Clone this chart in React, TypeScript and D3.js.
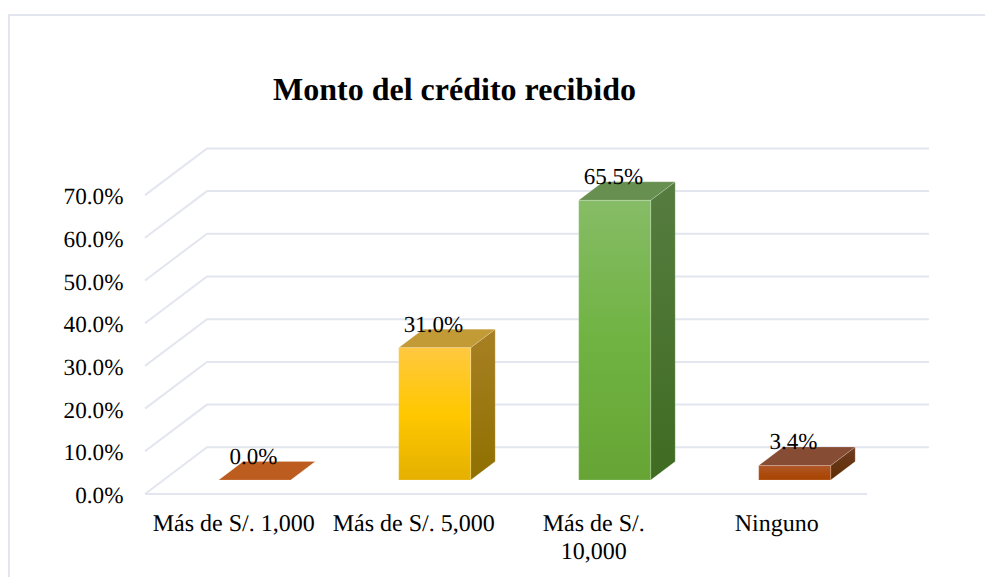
import React from "react";
import * as d3 from "d3";

const title = "Monto del crédito recibido";
const categories = ["Más de S/. 1,000", "Más de S/. 5,000", "Más de S/. 10,000", "Ninguno"];
const categoryLines = [["Más de S/. 1,000"], ["Más de S/. 5,000"], ["Más de S/.", "10,000"], ["Ninguno"]];
const values = [0.0, 31.0, 65.5, 3.4];
const valueLabels = ["0.0%", "31.0%", "65.5%", "3.4%"];
const ticks = [0, 10, 20, 30, 40, 50, 60, 70];
const faces = [
  { front: ["#c8682c", "#bc5c1e", "#b05417"], top: "#bc5c1e", side: ["#8a4a20", "#7a3f14"] },
  { front: ["#ffc840", "#ffc800", "#e5b000"], top: "#c29a36", side: ["#a88024", "#8f7000"] },
  { front: ["#86bc66", "#70b342", "#66a535"], top: "#678f4f", side: ["#567d40", "#3f6b22"] },
  { front: ["#b0582c", "#ac4c10", "#a84400"], top: "#864d34", side: ["#6f3d24", "#5e2c00"] },
];

const FONT = "'Liberation Serif', 'Times New Roman', serif";
const GRID = "#e3e6ef";
const W = 985, H = 577;

const y = d3.scaleLinear().domain([0, 70]).range([447.3, 148.4]);
const x = d3.scaleBand<string>().domain(categories).range([164.7, 884.7]).paddingInner(0.6).paddingOuter(0.3);

const wallDx = 62, wallDy = 46.7;       // depth of the floor
const barDx = 24.5, barDy = 18.5;       // depth of a bar
const baseDrop = 32.7;                  // bar base sits below the back-wall zero

export default function App() {
  const bw = x.bandwidth();
  return (
    <svg width={W} height={H} viewBox={`0 0 ${W} ${H}`} textRendering="geometricPrecision"
      style={{ position: "absolute", left: 0, top: 0, display: "block", background: "#fff" }}>
      <defs>
        {faces.map((f, i) => (
          <React.Fragment key={i}>
            <linearGradient id={`front${i}`} x1="0" y1="0" x2="0" y2="1">
              <stop offset="0" stopColor={f.front[0]} />
              <stop offset="0.5" stopColor={f.front[1]} />
              <stop offset="1" stopColor={f.front[2]} />
            </linearGradient>
            <linearGradient id={`side${i}`} x1="0" y1="0" x2="0" y2="1">
              <stop offset="0" stopColor={f.side[0]} />
              <stop offset="1" stopColor={f.side[1]} />
            </linearGradient>
          </React.Fragment>
        ))}
      </defs>

      <rect x={9} y={15} width={1000} height={600} fill="none" stroke={GRID} strokeWidth={2} />

      <text x={454.5} y={100} textAnchor="middle" fontFamily={FONT} fontWeight="bold" fontSize={32} fill="#000">{title}</text>

      {ticks.map((t) => {
        const yy = y(t);
        return (
          <g key={t}>
            <polyline fill="none" stroke={GRID} strokeWidth={2}
              points={`${207 - wallDx},${yy + wallDy} 207,${yy} 929,${yy}`} />
            <text x={123.5} y={yy + wallDy + 9} textAnchor="end" fontFamily={FONT} fontSize={23.2} fill="#000">
              {d3.format(".1f")(t)}%
            </text>
          </g>
        );
      })}
      <line x1={145} x2={867} y1={y(0) + wallDy} y2={y(0) + wallDy} stroke={GRID} strokeWidth={2} />

      {categories.map((c, i) => {
        const x0 = x(c)!;
        const x1 = x0 + bw;
        const base = y(0) + baseDrop;
        const h = y(0) - y(values[i]);
        const topY = base - h;
        const f = faces[i];
        const edge = { stroke: "#ffffff", strokeOpacity: 0.18, strokeWidth: 1 };
        return (
          <g key={c}>
            <polygon fill={`url(#side${i})`} {...edge} points={`${x1},${topY} ${x1 + barDx},${topY - barDy} ${x1 + barDx},${base - barDy} ${x1},${base}`} />
            <polygon fill={f.top} {...edge} points={`${x0},${topY} ${x0 + barDx},${topY - barDy} ${x1 + barDx},${topY - barDy} ${x1},${topY}`} />
            {h > 0 && <rect x={x0} y={topY} width={bw} height={h} fill={`url(#front${i})`} {...edge} />}
          </g>
        );
      })}

      {categories.map((c, i) => {
        const cx = x(c)! + bw / 2;
        const base = y(0) + baseDrop;
        const topY = base - (y(0) - y(values[i]));
        return (
          <text key={c} x={cx - 1.3} y={topY - 16} textAnchor="middle" fontFamily={FONT} fontSize={23} fill="#000">
            {valueLabels[i]}
          </text>
        );
      })}

      {categories.map((c, i) => {
        const cx = x(c)! + bw / 2 + (i === 3 ? -18 : -21);
        return (
          <text key={c} textAnchor="middle" fontFamily={FONT} fontSize={24} fill="#000">
            {categoryLines[i].map((l, j) => (
              <tspan key={j} x={cx} y={531 + j * 27.5}>{l}</tspan>
            ))}
          </text>
        );
      })}
    </svg>
  );
}
